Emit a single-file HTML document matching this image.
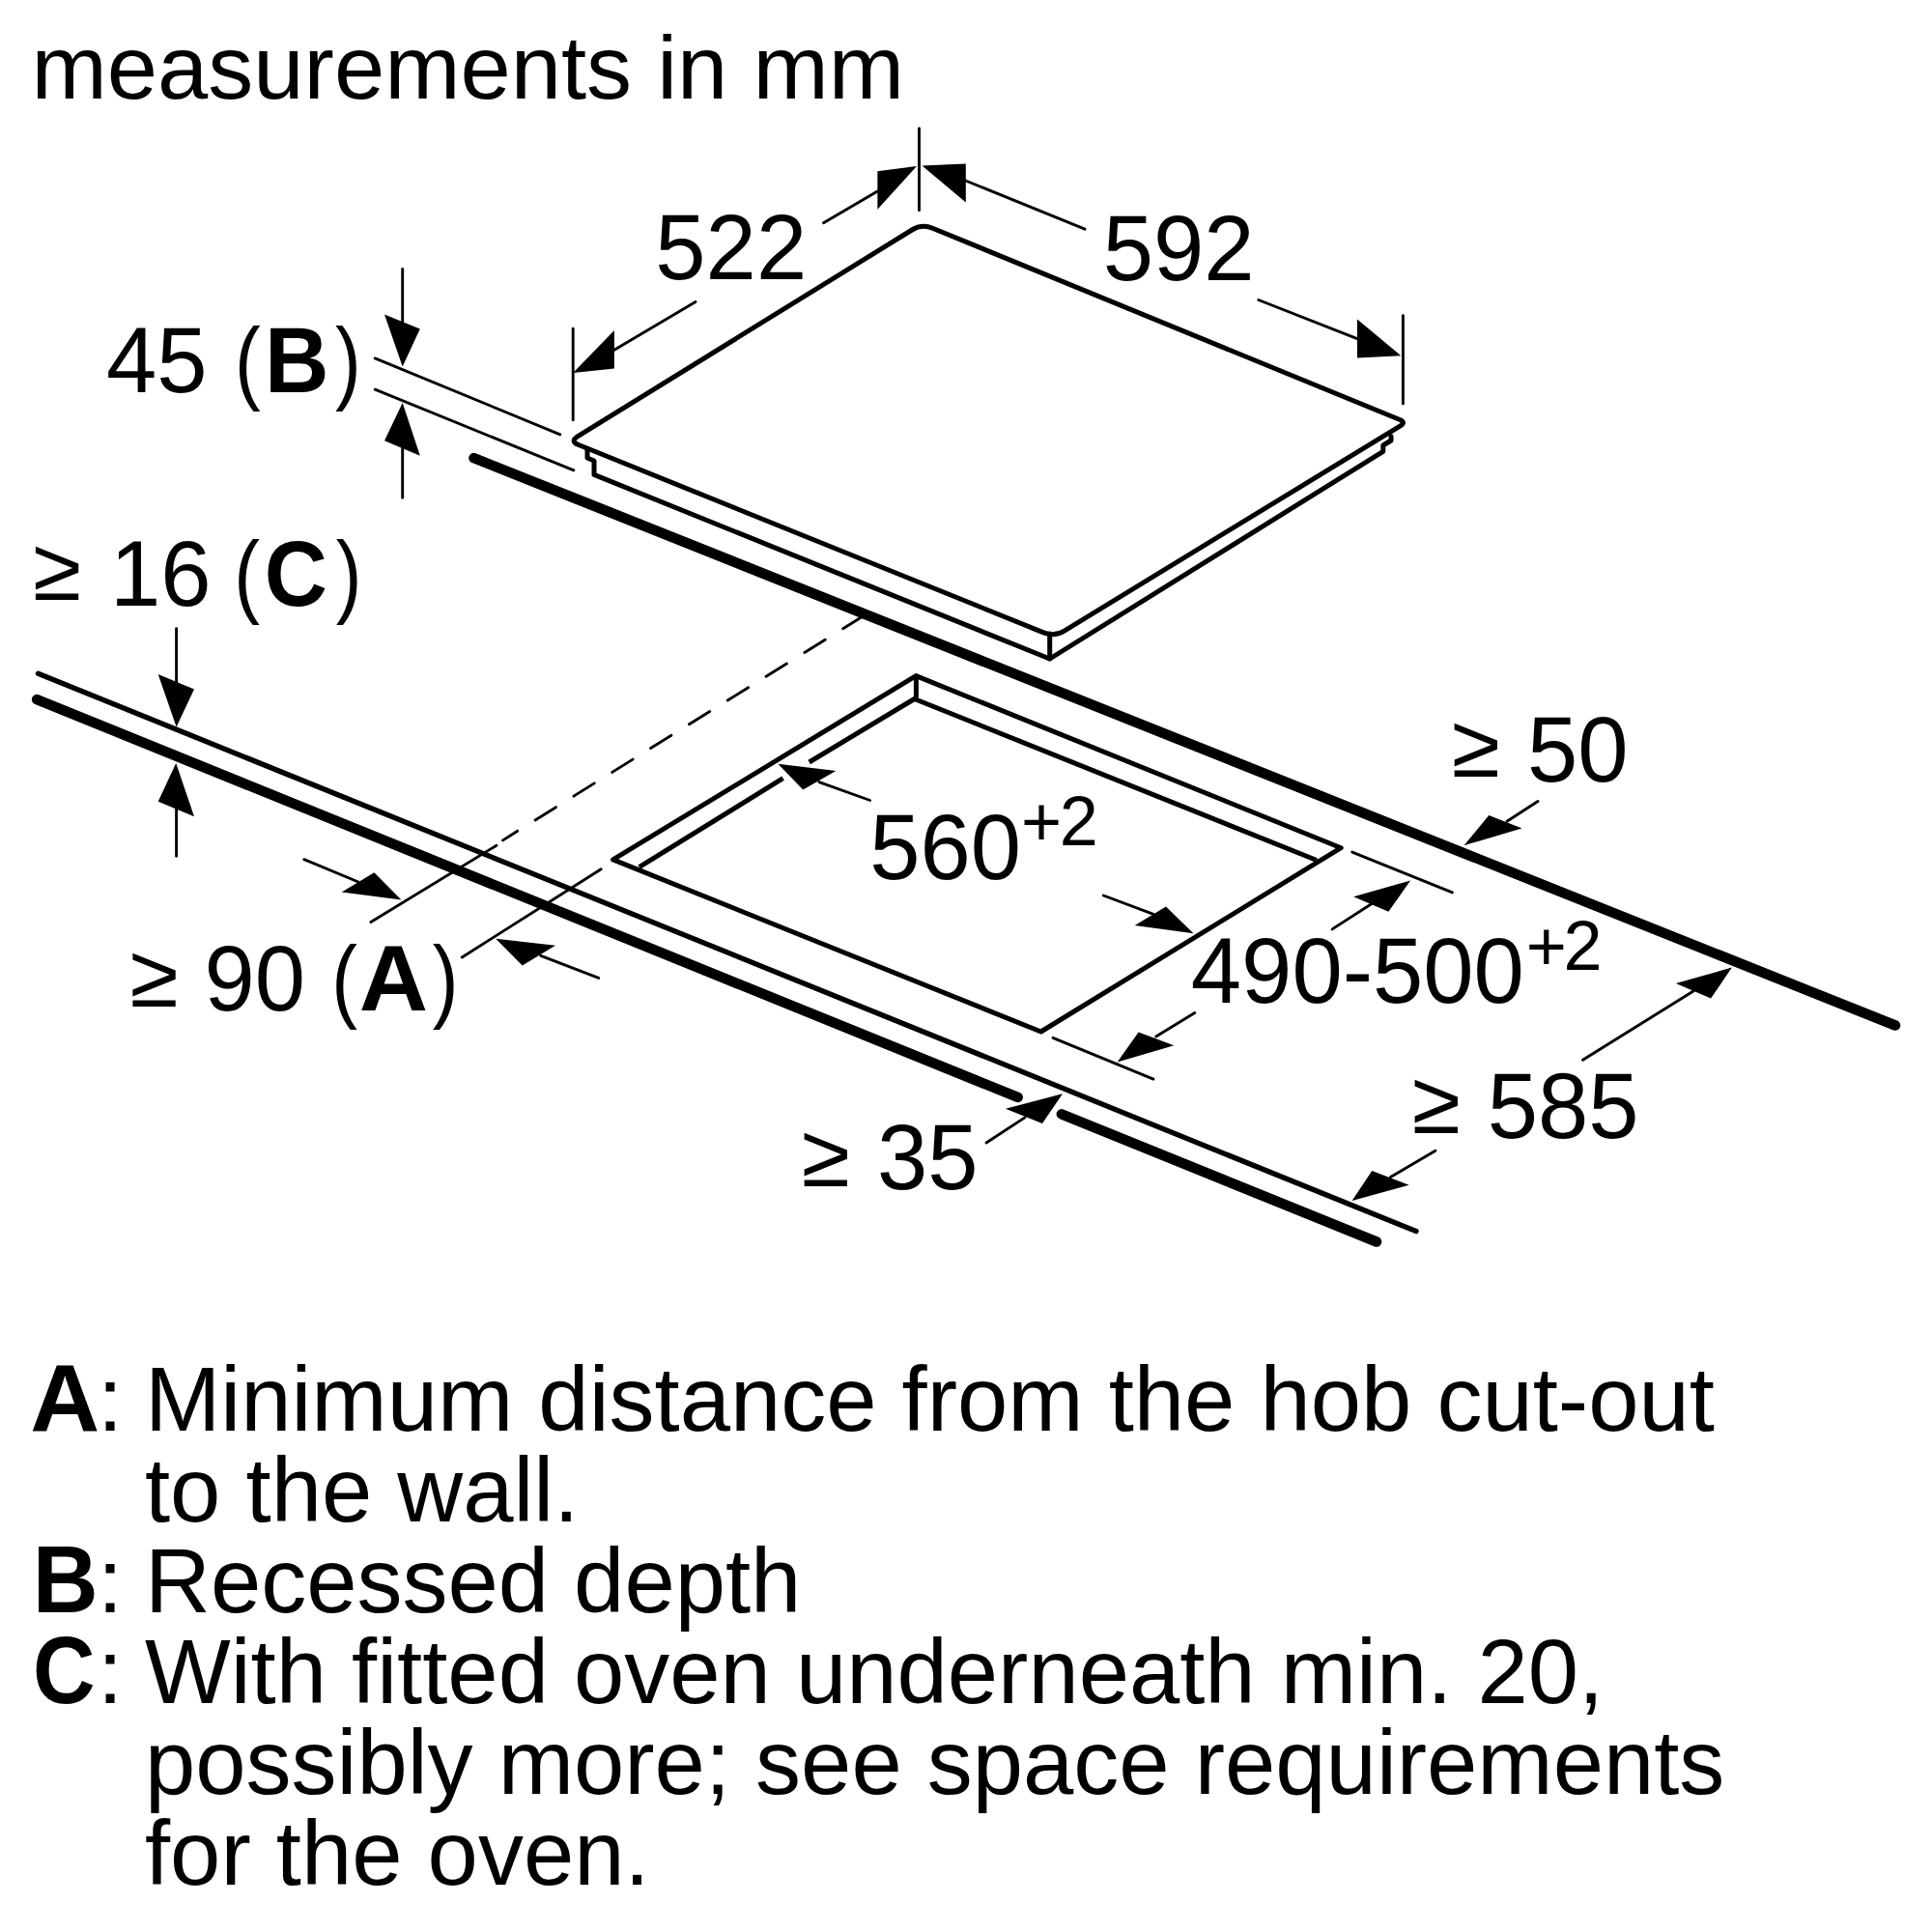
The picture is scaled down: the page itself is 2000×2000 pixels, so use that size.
<!DOCTYPE html>
<html><head><meta charset="utf-8">
<style>
html,body{margin:0;padding:0;background:#fff;}
body{width:2000px;height:2000px;overflow:hidden;}
svg{display:block;}
text{font-family:"Liberation Sans",sans-serif;fill:#000;font-variant-ligatures:none;font-kerning:none;}
.b{font-weight:bold;}
</style></head>
<body>
<svg width="2000" height="2000" viewBox="0 0 2000 2000">
<rect width="2000" height="2000" fill="#fff"/>
<text transform="translate(32.5,101.7) scale(1,0.99)" font-size="94">measurements in mm</text>
<g fill="none" stroke="#000" stroke-linecap="round">
<line x1="490.5" y1="474.1" x2="1962" y2="1061.5" stroke-width="10.6"/>
<line x1="38.2" y1="724.1" x2="1053.6" y2="1135.9" stroke-width="10.6"/>
<line x1="1098.9" y1="1153.3" x2="1425" y2="1285.5" stroke-width="10.6"/>
<line x1="39.5" y1="697.2" x2="1466" y2="1274.6" stroke-width="5.4"/>
</g>
<g fill="none" stroke="#000" stroke-width="5.0" stroke-linejoin="round" stroke-linecap="round">
<path d="M598.21,451.55 L944.09,238.00 Q954.30,231.70 965.40,236.25 L1449.12,434.54 Q1455.60,437.20 1449.62,440.85 L1101.74,653.05 Q1091.50,659.30 1080.37,654.81 L598.97,460.54 Q589.70,456.80 598.21,451.55 Z"/>
<path d="M608,465 L608,474 L615,477 L615,491.4 L1086.7,682 L1431.8,467.3 L1431.8,461 L1440,456 L1440,451.8"/>
<line x1="1086.7" y1="656" x2="1086.7" y2="682"/>
</g>
<g fill="none" stroke="#000" stroke-width="5.0" stroke-linejoin="round" stroke-linecap="butt">
<path d="M948.2,699.6 L1388.2,877.7 L1077.6,1068 L634.6,889.9 Z"/>
<path d="M661.7,897.6 L810.6,805.7"/>
<path d="M837.7,789 L946.6,723.5 L1363,890.5"/>
<path d="M948.4,699.6 L948.4,722.5"/>
</g>
<g fill="none" stroke="#000" stroke-width="2.9" stroke-linecap="round">
<line x1="593.2" y1="340.2" x2="593.2" y2="434.7"/>
<line x1="951.5" y1="133" x2="951.5" y2="217.8"/>
<line x1="635.9" y1="362.2" x2="720" y2="312.5"/>
<line x1="852.5" y1="230.7" x2="908.4" y2="197.9"/>
<line x1="1452.4" y1="326.8" x2="1452.4" y2="417.9"/>
<line x1="999.6" y1="187" x2="1123" y2="237.2"/>
<line x1="1302.8" y1="310.5" x2="1405" y2="350.6"/>
<line x1="416.7" y1="278.5" x2="416.7" y2="340"/>
<line x1="416.7" y1="460" x2="416.7" y2="515.3"/>
<line x1="388.2" y1="370.9" x2="579.9" y2="449.8"/>
<line x1="388.2" y1="403.2" x2="593.9" y2="486.8"/>
<line x1="182.6" y1="650.8" x2="182.6" y2="710"/>
<line x1="182.6" y1="835" x2="182.6" y2="886.3"/>
<line x1="383.9" y1="954.4" x2="514" y2="875.2"/>
<line x1="478.3" y1="991" x2="622.2" y2="899.7"/>
<line x1="314.8" y1="889.7" x2="371" y2="913"/>
<line x1="559.8" y1="989.4" x2="619.7" y2="1012.4"/>
<line x1="848" y1="809.6" x2="900.6" y2="828.5"/>
<line x1="1142.3" y1="927" x2="1194" y2="946.3"/>
<line x1="1399.8" y1="882.1" x2="1503.4" y2="923.9"/>
<line x1="1090" y1="1074.4" x2="1194" y2="1117.1"/>
<line x1="1379.1" y1="961.9" x2="1419.3" y2="936"/>
<line x1="1196.7" y1="1073.1" x2="1236.8" y2="1048.6"/>
<line x1="1560" y1="850.3" x2="1592" y2="829.5"/>
<line x1="1753.4" y1="1025.8" x2="1638.5" y2="1097.2"/>
<line x1="1439.5" y1="1218.5" x2="1485.9" y2="1191.3"/>
<line x1="1021" y1="1183" x2="1060.9" y2="1156.9"/>
<line x1="520.6" y1="869.9" x2="535.7" y2="860.3"/>
<line x1="554.1" y1="848.9" x2="892" y2="638.8" stroke-dasharray="25.1 21.8"/>
</g>
<g fill="#000" stroke="none">
<polygon points="593.2,386 635.9,342 635.9,381.6"/>
<polygon points="949,172 908.4,177.2 908.4,216.8"/>
<polygon points="954.5,171.4 999.8,169.4 999.8,209.5"/>
<polygon points="1450.3,368.2 1405,330.4 1405,370.5"/>
<polygon points="416.7,379.4 398,325.6 434.8,340.5"/>
<polygon points="416.7,417 398,456.3 434.8,471.8"/>
<polygon points="182.6,752.4 163.7,697.9 201,713.4"/>
<polygon points="182.2,790 163.7,829.8 201,845.2"/>
<polygon points="415.4,931.6 387.4,903.2 353.7,923.5"/>
<polygon points="513.2,971.7 575,978.7 540.7,999.6"/>
<polygon points="805.4,790.7 865.4,798 831.3,817.4"/>
<polygon points="1235.5,966.3 1207,938.6 1174.7,958"/>
<polygon points="1460.1,911.4 1401.1,928.2 1437.4,943.7"/>
<polygon points="1156.6,1099.5 1178.6,1068.5 1215.3,1082.2"/>
<polygon points="1515.5,875.2 1541.3,844.1 1575.5,857.5"/>
<polygon points="1792.9,1001.6 1734.8,1018 1771.1,1033.5"/>
<polygon points="1399.6,1243.1 1420.3,1212 1458.7,1226.8"/>
<polygon points="1100,1132.2 1040.9,1147.8 1079,1163"/>
</g>
<text transform="translate(678.34,289.2) scale(1.0,1.03)" font-size="94">522</text>
<text transform="translate(1141.64,289.7) scale(1.0,1.03)" font-size="94">592</text>
<text transform="translate(109.94,405.8) scale(1.0,1.03)" font-size="94">45</text>
<text transform="translate(242.92,405.8) scale(0.855,1.015)" font-size="94">(</text>
<text transform="translate(273.94,405.8) scale(0.98,1.03)" font-size="94" class="b">B</text>
<text transform="translate(347.03,405.8) scale(0.855,1.015)" font-size="94">)</text>
<text transform="translate(34.11,621.4) scale(0.97,0.98)" font-size="94">≥</text>
<text transform="translate(113.94,626.6) scale(1.0,1.03)" font-size="94">16</text>
<text transform="translate(242.22,626.6) scale(0.855,1.015)" font-size="94">(</text>
<text transform="translate(273.70,626.6) scale(0.96,1.03)" font-size="94" class="b">C</text>
<text transform="translate(347.63,626.6) scale(0.855,1.015)" font-size="94">)</text>
<text transform="translate(134.41,1041.6) scale(0.97,0.98)" font-size="94">≥</text>
<text transform="translate(211.59,1046.3) scale(1.0,1.03)" font-size="94">90</text>
<text transform="translate(343.22,1046.3) scale(0.855,1.015)" font-size="94">(</text>
<text transform="translate(371.84,1046.3) scale(1.05,1.03)" font-size="94" class="b">A</text>
<text transform="translate(447.63,1046.3) scale(0.855,1.015)" font-size="94">)</text>
<text transform="translate(900.14,910.1) scale(1.0,1.03)" font-size="94">560</text>
<text transform="translate(1232.84,1038.2) scale(1.0,1.03)" font-size="94">490-500</text>
<text transform="translate(1502.71,803.7) scale(0.97,0.98)" font-size="94">≥</text>
<text transform="translate(1581.04,809) scale(1.0,1.03)" font-size="94">50</text>
<text transform="translate(1461.71,1173.3) scale(0.97,0.98)" font-size="94">≥</text>
<text transform="translate(1539.74,1178) scale(1.0,1.03)" font-size="94">585</text>
<text transform="translate(829.71,1227.5) scale(0.97,0.98)" font-size="94">≥</text>
<text transform="translate(908.02,1231.2) scale(1.0,1.03)" font-size="94">35</text>
<text transform="translate(1056.88,874.6) scale(1.0,1.0)" font-size="72">+</text>
<text transform="translate(1096.68,874.6) scale(1.0,1.0)" font-size="72">2</text>
<text transform="translate(1579.68,1004) scale(1.0,1.0)" font-size="72">+</text>
<text transform="translate(1618.38,1004) scale(1.0,1.0)" font-size="72">2</text>
<text transform="translate(31.32,1480.6) scale(1.06,1.04)" font-size="94" class="b">A</text>
<text transform="translate(100.9,1480.6) scale(1,1.0)" font-size="94">:</text>
<text transform="translate(150,1480.6) scale(1,1.0)" font-size="94">Minimum distance from the hob cut-out</text>
<text transform="translate(150,1574.6) scale(1,1.0)" font-size="94">to the wall.</text>
<text transform="translate(33.81,1668.6) scale(1.0,1.04)" font-size="94" class="b">B</text>
<text transform="translate(100.9,1668.6) scale(1,1.0)" font-size="94">:</text>
<text transform="translate(150,1668.6) scale(1,1.0)" font-size="94">Recessed depth</text>
<text transform="translate(34.04,1762.6) scale(0.95,1.04)" font-size="94" class="b">C</text>
<text transform="translate(100.9,1762.6) scale(1,1.0)" font-size="94">:</text>
<text transform="translate(150,1762.6) scale(1,1.0)" font-size="94">With fitted oven underneath min. 20,</text>
<text transform="translate(150,1856.6) scale(1,1.0)" font-size="94">possibly more; see space requirements</text>
<text transform="translate(150,1950.6) scale(1,1.0)" font-size="94">for the oven.</text>
</svg>
</body></html>
